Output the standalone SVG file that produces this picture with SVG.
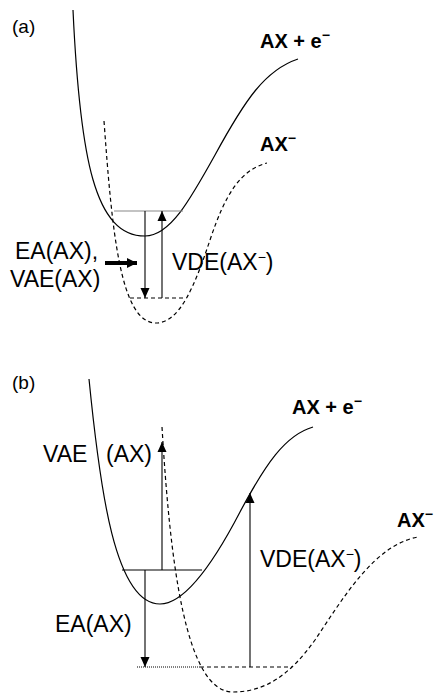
<svg xmlns="http://www.w3.org/2000/svg" width="438" height="694" viewBox="0 0 438 694">
<defs>
<style>
.t{font-family:"Liberation Sans",Arial,sans-serif;font-size:23px;fill:#000}
.b{font-family:"Liberation Sans",Arial,sans-serif;font-size:20px;font-weight:bold;fill:#000}
.p{font-family:"Liberation Sans",Arial,sans-serif;font-size:19px;fill:#000}
.sup{font-size:14px}
.solid{fill:none;stroke:#000;stroke-width:1.2}
.dash{fill:none;stroke:#000;stroke-width:1.2;stroke-dasharray:4 3}
.ln{stroke:#000;stroke-width:1.1;fill:none}
</style>
<marker id="ah" markerWidth="10" markerHeight="10" refX="10" refY="5" orient="auto" markerUnits="userSpaceOnUse">
<path d="M0,0.5 L10,5 L0,9.5 Z" fill="#000"/>
</marker>
<marker id="ahb" markerWidth="11" markerHeight="11" refX="10" refY="5.5" orient="auto" markerUnits="userSpaceOnUse">
<path d="M0,0.5 L10,5.5 L0,10.5 Z" fill="#000"/>
</marker>
</defs>
<rect width="438" height="694" fill="#fff"/>

<g id="panel-a">
<text class="p" x="12" y="33">(a)</text>
<path class="solid" d="M73,10 C80,160 95,236 145,236 C170,236 190,200 215,155 C245,100 265,70 298,59"/>
<path class="dash" d="M104,121 C112,230 120,323 156,323 C180,323 195,285 210,240 C225,195 240,170 267,163"/>
<text class="b" x="260" y="48">AX + e<tspan class="sup" baseline-shift="super">−</tspan></text>
<text class="b" x="260" y="151">AX<tspan class="sup" baseline-shift="super">−</tspan></text>
<line x1="114" y1="211" x2="183" y2="211" stroke="#888" stroke-width="1.2"/>
<line x1="130" y1="298" x2="186" y2="298" class="dash"/>
<line class="ln" x1="145" y1="211" x2="145" y2="298" marker-end="url(#ah)"/>
<line class="ln" x1="162" y1="298" x2="162" y2="211" marker-end="url(#ah)"/>
<line x1="105" y1="263" x2="137" y2="263" stroke="#000" stroke-width="4" marker-end="url(#ahb)"/>
<text class="t" x="15" y="259">EA(AX),</text>
<text class="t" x="10" y="287">VAE(AX)</text>
<text class="t" x="172" y="270">VDE(AX<tspan class="sup" baseline-shift="super">−</tspan><tspan baseline-shift="0">)</tspan></text>
</g>

<g id="panel-b">
<text class="p" x="12" y="389">(b)</text>
<path class="solid" d="M89,379 C100,490 115,604 160,604 C185,604 215,560 240,512 C265,465 285,435 313,427"/>
<path class="dash" d="M162,427 C170,560 185,692 233,692 C265,692 290,675 315,640 C345,595 375,545 418,537"/>
<text class="b" x="292" y="414">AX + e<tspan class="sup" baseline-shift="super">−</tspan></text>
<text class="b" x="397" y="527">AX<tspan class="sup" baseline-shift="super">−</tspan></text>
<line x1="122" y1="570" x2="202" y2="570" stroke="#000" stroke-width="1.2"/>
<line x1="137" y1="667" x2="200" y2="667" stroke="#000" stroke-width="1" stroke-dasharray="1 1"/>
<line x1="200" y1="667" x2="292" y2="667" class="dash"/>
<line class="ln" x1="162" y1="570" x2="162" y2="442" marker-end="url(#ah)"/>
<line class="ln" x1="145" y1="570" x2="145" y2="667" marker-end="url(#ah)"/>
<line class="ln" x1="250" y1="667" x2="250" y2="493" marker-end="url(#ah)"/>
<text class="t" x="43" y="462">VAE</text>
<text class="t" x="106" y="462">(AX)</text>
<text class="t" x="260" y="567">VDE(AX<tspan class="sup" baseline-shift="super">−</tspan><tspan baseline-shift="0">)</tspan></text>
<text class="t" x="55" y="632">EA(AX)</text>
</g>
</svg>
